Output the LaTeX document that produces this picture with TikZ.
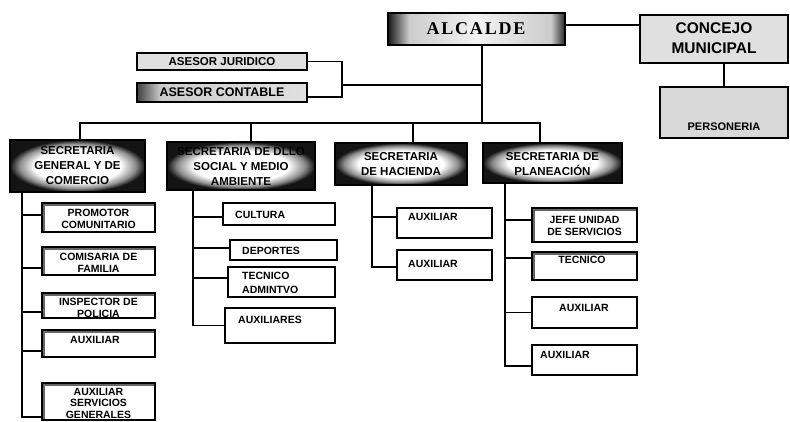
\documentclass[tikz,border=0pt]{standalone}
\usepackage{fontspec}
\setmainfont{Liberation Sans}
\newfontfamily\alcfont[LetterSpace=10]{Liberation Serif}
\pgfdeclareradialshading{secshade}{\pgfpoint{0bp}{0bp}}{color(0bp)=(white); color(16bp)=(white); color(21.5bp)=(black!45); color(25bp)=(black!92); color(50bp)=(black!92)}
\pgfdeclarehorizontalshading{alcshade}{100bp}{color(0bp)=(black!90); color(25bp)=(black!90); color(31bp)=(black!20); color(50bp)=(black!5); color(71bp)=(black!20); color(75bp)=(black!85); color(100bp)=(black!85)}
\pgfdeclarehorizontalshading{acshade}{100bp}{color(0bp)=(black!75); color(25bp)=(black!75); color(32bp)=(black!20); color(75bp)=(black!12); color(100bp)=(black!12)}
\newcommand{\obox}[6]{\node[#1, minimum width={(#4-#2)*1pt}, minimum height={(#5-#3)*1pt}] (#6) at ({(#2+#4)/2},{(#3+#5)/2}) {};}
\newcommand{\brn}[3]{\draw[conn] ([yshift=#3]#1.west) -- ([yshift=#3]#1.west -| #2);}
\begin{document}
\begin{tikzpicture}[x=1pt,y=-1pt,
  box/.style={draw=black, line width=1.4pt, inner sep=0pt, outer sep=0pt},
  sub/.style={box, fill=white},
  subd/.style={sub, path picture={\fill[black!60] (path picture bounding box.north west) rectangle ([yshift=-3pt]path picture bounding box.north east); \fill[black!60] (path picture bounding box.north west) rectangle ([xshift=3pt]path picture bounding box.south west);}},
  sec/.style={box, shade, shading=secshade},
  conn/.style={line width=1.1pt},
  lab/.style={inner sep=0pt, font=\bfseries\fontsize{10.5}{12}\selectfont, align=center},
  seclab/.style={lab, font=\bfseries\fontsize{11.5}{15}\selectfont}]
\useasboundingbox[fill=white] (0,0) rectangle (790,421);
% top
\obox{box, shade, shading=alcshade}{388}{13}{565}{45}{alc}
\obox{box, fill=black!12}{640}{15}{788}{63}{con}
\obox{box, fill=black!15}{660}{87}{788}{138}{per}
\obox{box, fill=black!12}{137}{53}{307}{70}{aj}
\obox{box, shade, shading=acshade}{137}{83}{307}{102}{ac}
% secretarias
\obox{sec}{10}{140}{145}{192}{sg}
\obox{sec}{167}{142}{315}{190}{sd}
\obox{sec}{335}{143}{467}{185}{sh}
\obox{sec}{483}{143}{622}{183}{sp}
% column 1
\obox{subd}{42}{203}{155}{232}{b11}
\obox{subd}{42}{247}{155}{275}{b12}
\obox{subd}{42}{293}{155}{318}{b13}
\obox{subd}{42}{330}{155}{357}{b14}
\obox{subd}{42}{383}{155}{420}{b15}
% column 2
\obox{sub}{223}{203}{335}{225}{b21}
\obox{sub}{230}{240}{337}{260}{b22}
\obox{sub}{228}{267}{335}{297}{b23}
\obox{sub}{225}{308}{335}{343}{b24}
% column 3
\obox{sub}{397}{208}{492}{238}{b31}
\obox{sub}{397}{250}{492}{280}{b32}
% column 4
\obox{subd}{532}{208}{637}{242}{b41}
\obox{subd}{532}{252}{637}{280}{b42}
\obox{sub}{532}{297}{637}{328}{b43}
\obox{sub}{532}{345}{637}{375}{b44}
% labels
\node[lab, font=\alcfont\bfseries\fontsize{18}{18}\selectfont] (alc-t) at (476,29) {ALCALDE};
\node[lab, font=\bfseries\fontsize{15.5}{20}\selectfont] (con-t) at (714,38) {CONCEJO\\MUNICIPAL};
\node[lab, font=\bfseries\fontsize{11}{12}\selectfont] (per-t) at (724,127) {PERSONERIA};
\node[lab, font=\bfseries\fontsize{11.5}{12}\selectfont] (aj-t) at (222,61.5) {ASESOR JURIDICO};
\node[lab, font=\bfseries\fontsize{12.5}{12}\selectfont] (ac-t) at (222,92.5) {ASESOR CONTABLE};
\node[seclab] (sg-t) at (77.5,166) {SECRETARIA\\GENERAL Y DE\\COMERCIO};
\node[seclab] (sd-t) at (241,166) {SECRETARIA DE DLLO\\SOCIAL Y MEDIO\\AMBIENTE};
\node[seclab] (sh-t) at (401,164) {SECRETARIA\\DE HACIENDA};
\node[seclab] (sp-t) at (552.5,164) {SECRETARIA DE\\PLANEACIÓN};
\node[lab] (b11-t) at (98.5,219) {PROMOTOR\\COMUNITARIO};
\node[lab] (b12-t) at (98.5,263) {COMISARIA DE\\FAMILIA};
\node[lab] (b13-t) at (98.5,308) {INSPECTOR DE\\POLICIA};
\node[lab] (b14-t) at (95,340) {AUXILIAR};
\node[lab, font=\bfseries\fontsize{10.5}{11.5}\selectfont] (b15-t) at (98.5,403) {AUXILIAR\\SERVICIOS\\GENERALES};
\node[lab, anchor=west] (b21-t) at (235,215) {CULTURA};
\node[lab, anchor=west] (b22-t) at (242,251) {DEPORTES};
\node[lab, anchor=west, align=left, font=\bfseries\fontsize{10.5}{14}\selectfont] (b23-t) at (242,283) {TECNICO\\ADMINTVO};
\node[lab, anchor=west] (b24-t) at (238,320) {AUXILIARES};
\node[lab, anchor=west] (b31-t) at (408,217) {AUXILIAR};
\node[lab, anchor=west] (b32-t) at (408,264) {AUXILIAR};
\node[lab] (b41-t) at (584.5,226) {JEFE UNIDAD\\DE SERVICIOS};
\node[lab] (b42-t) at (582,260) {TECNICO};
\node[lab] (b43-t) at (584,308) {AUXILIAR};
\node[lab] (b44-t) at (565,355) {AUXILIAR};
% connectors top
\draw[conn] ([yshift=4pt]alc.east) -- ([yshift=4pt]alc.east -| con.west);
\draw[conn] (per.north) -- (per.north |- con.south);
\coordinate (busj) at ([xshift=5.5pt]alc.south |- 0,123);
\draw[conn] ([xshift=5.5pt]alc.south) -- (busj);
\coordinate (asj) at (342,85);
\draw[conn] (aj.east) -| (asj) -- (asj -| busj);
\draw[conn] ([yshift=-4.5pt]ac.east) -| (asj);
\draw[conn] ([xshift=2.5pt]sg.north) |- (busj);
\draw[conn] ([xshift=-12.5pt]sp.north) |- (busj);
\draw[conn] ([xshift=10pt]sd.north) -- ([xshift=10pt]sd.north |- busj);
\draw[conn] ([xshift=12pt]sh.north) -- ([xshift=12pt]sh.north |- busj);
% column trunks
\coordinate (c1) at ([xshift=12pt]sg.south west);
\coordinate (c2) at ([xshift=26pt]sd.south west);
\coordinate (c3) at ([xshift=37pt]sh.south west);
\coordinate (c4) at ([xshift=22pt]sp.south west);
\draw[conn] (c1) |- ([yshift=-15.5pt]b15.west);
\brn{b11}{c1}{2.5pt}
\brn{b12}{c1}{-7pt}
\brn{b13}{c1}{-6.5pt}
\brn{b14}{c1}{-7.5pt}
\draw[conn] (c2) |- (b24.west);
\brn{b21}{c2}{-3pt}
\brn{b22}{c2}{2pt}
\brn{b23}{c2}{4pt}
\draw[conn] (c3) |- ([yshift=-2pt]b32.west);
\brn{b31}{c3}{6pt}
\draw[conn] (c4) |- ([yshift=-6pt]b44.west);
\brn{b41}{c4}{5pt}
\brn{b42}{c4}{8pt}
\brn{b43}{c4}{0pt}
\end{tikzpicture}
\end{document}
